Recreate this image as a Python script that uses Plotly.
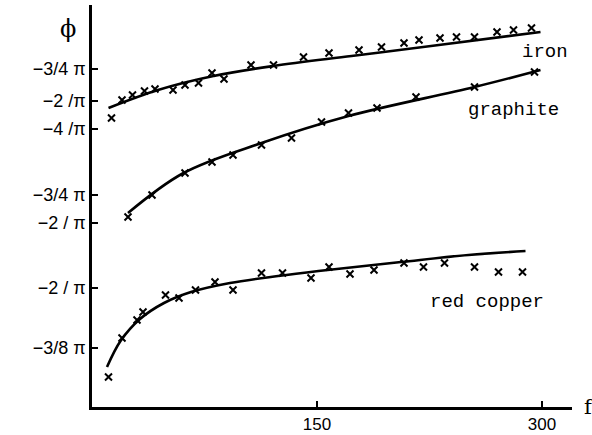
import plotly.graph_objects as go

# Frequency (f) and phase (phi, drawn on the chart's own offset scale)
iron_f = [13, 20, 27, 35, 42, 54, 62, 71, 80, 88, 106, 121, 141, 158, 178, 193, 208, 218, 232, 243, 255, 270, 281, 293]
iron_phi = [289, 307, 312, 316, 318, 317, 322, 324, 334, 328, 342, 342, 350, 354, 357, 360, 364, 367, 369, 370, 370, 375, 377, 379]
iron_fit_f = [11, 44, 81, 121, 173, 226, 299]
iron_fit_phi = [299, 317, 331, 341, 351, 361, 375]

graphite_f = [24, 40, 62, 80, 94, 113, 133, 153, 171, 190, 216, 255, 295]
graphite_phi = [190, 212, 234, 245, 252, 262, 269, 285, 294, 299, 310, 320, 335]
graphite_fit_f = [24, 61, 113, 171, 255, 299]
graphite_fit_phi = [194, 234, 264, 291, 320, 337]

copper_f = [11, 20, 30, 34, 49, 58, 69, 82, 94, 113, 127, 146, 158, 172, 188, 208, 221, 235, 255, 271, 287]
copper_phi = [30, 69, 87, 95, 112, 109, 117, 125, 117, 134, 134, 129, 140, 133, 137, 144, 140, 144, 140, 135, 135]
copper_fit_f = [10, 19, 32, 48, 66, 92, 124, 151, 206, 251, 289]
copper_fit_phi = [40, 66, 88, 104, 115, 124, 131, 136, 145, 152, 156]

x_tick_vals = [150, 300]
x_tick_text = ["150", "300"]
y_tick_vals = [338, 306, 278, 212, 184, 119, 59]
y_tick_text = ["−3/4 π", "−2 /π", "−4 /π", "−3/4 π", "−2 / π", "−2 / π", "−3/8 π"]

fig = go.Figure()
for fx, fy in [(iron_fit_f, iron_fit_phi), (graphite_fit_f, graphite_fit_phi), (copper_fit_f, copper_fit_phi)]:
    fig.add_trace(go.Scatter(x=fx, y=fy, mode="lines", line=dict(color="black", width=2.6, shape="spline", smoothing=1.0),
                             showlegend=False, hoverinfo="skip"))
for mx, my in [(iron_f, iron_phi), (graphite_f, graphite_phi), (copper_f, copper_phi)]:
    fig.add_trace(go.Scatter(x=mx, y=my, mode="markers",
                             marker=dict(symbol="x-thin", size=7, color="black", line=dict(color="black", width=2)),
                             showlegend=False))

mono = dict(family="Liberation Mono, DejaVu Sans Mono, monospace", size=19, color="black")
fig.add_annotation(x=302, y=355, text="iron", showarrow=False, font=mono)
fig.add_annotation(x=281, y=297, text="graphite", showarrow=False, font=mono)
fig.add_annotation(x=263, y=105, text="red copper", showarrow=False, font=mono)
fig.add_annotation(x=-0.05, y=0.94, xref="paper", yref="paper", xanchor="center", yanchor="middle",
                   text="ϕ", showarrow=False,
                   font=dict(family="DejaVu Serif, serif", size=24, color="black"))
fig.add_annotation(x=1.035, y=0.0, xref="paper", yref="paper", xanchor="center", yanchor="middle",
                   text="f", showarrow=False,
                   font=dict(family="DejaVu Serif, serif", size=21, color="black"))

fig.update_xaxes(range=[0, 320], tickvals=x_tick_vals, ticktext=x_tick_text, ticks="inside", ticklen=6,
                 tickwidth=2, tickcolor="black", showline=True, linecolor="black", linewidth=2.5,
                 showgrid=False, zeroline=False,
                 tickfont=dict(family="Liberation Sans, Arial, sans-serif", size=17, color="black"))
fig.update_yaxes(range=[0, 402], tickvals=y_tick_vals, ticktext=y_tick_text, ticks="inside", ticklen=6,
                 tickwidth=2, tickcolor="black", showline=True, linecolor="black", linewidth=2.5,
                 showgrid=False, zeroline=False,
                 tickfont=dict(family="Liberation Sans, Arial, sans-serif", size=18, color="black"))

fig.update_layout(width=592, height=435, margin=dict(l=92, r=20, t=5, b=28, autoexpand=False),
                  plot_bgcolor="white", paper_bgcolor="white")
fig.write_html("out.html", config={"displayModeBar": False},
               post_script="document.body.style.margin='0';")
